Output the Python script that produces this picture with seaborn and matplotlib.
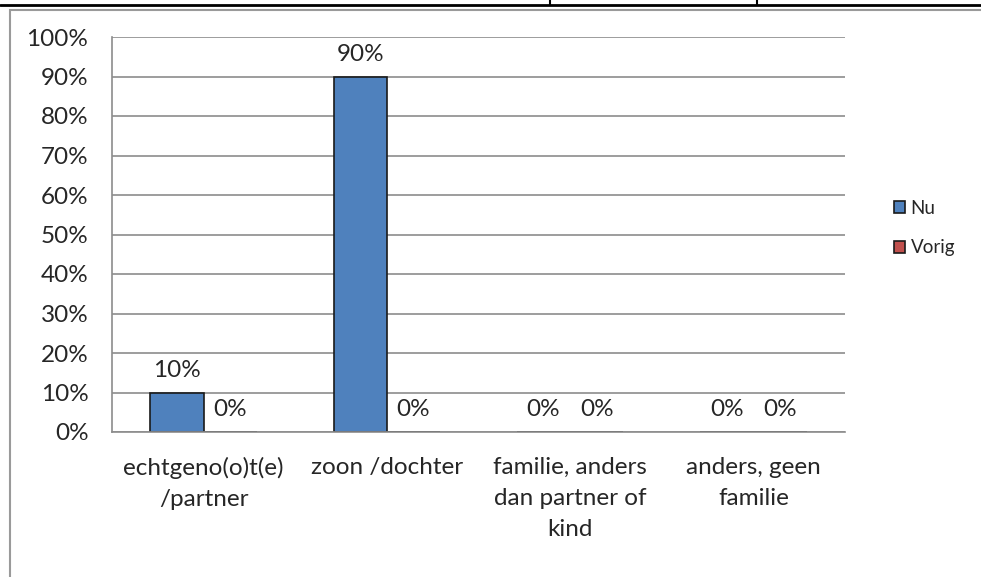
import seaborn as sns
import pandas as pd
import matplotlib.pyplot as plt
from matplotlib.patches import Rectangle
from matplotlib.lines import Line2D

categorieen = ["echtgeno(o)t(e)\n/partner", "zoon /dochter",
               "familie, anders\ndan partner of\nkind", "anders, geen\nfamilie"]
nu = [10, 90, 0, 0]
vorig = [0, 0, 0, 0]
reeksen = ["Nu", "Vorig"]
kleuren = ["#4F81BD", "#C0504D"]

df = pd.DataFrame({
    "categorie": categorieen * 2,
    "reeks": ["Nu"] * 4 + ["Vorig"] * 4,
    "waarde": nu + vorig,
})

sns.set_style("white")
plt.rcParams['font.family'] = ['Lato', 'DejaVu Sans']

W, H = 981, 577
fig = plt.figure(figsize=(W / 100, H / 100), dpi=100)
ax = fig.add_axes([112 / W, 1 - 432 / H, (845 - 112) / W, (432 - 37) / H])

# kader van de grafiek en tabelrand bovenaan
fig.patches.append(Rectangle((10 / W, -0.1), 1.2, 1 - 10 / H + 0.1, transform=fig.transFigure,
                             fill=False, edgecolor="#9a9a9a", linewidth=1.5))
fig.lines.append(Line2D([0, 1], [1 - 5 / H, 1 - 5 / H], transform=fig.transFigure,
                        color="black", linewidth=2))
for xv in [550, 757]:
    fig.lines.append(Line2D([xv / W, xv / W], [1 - 5 / H, 1], transform=fig.transFigure,
                            color="black", linewidth=1.5))

sns.barplot(data=df, x="categorie", y="waarde", hue="reeks", hue_order=reeksen,
            palette=kleuren, width=0.58, gap=0, edgecolor="#1a1a1a", linewidth=1.2,
            saturation=1, legend=False, ax=ax)

ax.set_xlim(-0.5, 3.5)
ax.set_ylim(0, 100)
ax.set_yticks(range(0, 101, 10))
ax.set_yticklabels([f"{v}%" for v in range(0, 101, 10)], fontsize=17.5)
ax.set_xticklabels(categorieen, fontsize=17.5, linespacing=1.6)
ax.set_xlabel("")
ax.set_ylabel("")
ax.yaxis.grid(True, color="#8c8c8c", linewidth=1.2)
ax.set_axisbelow(True)
for s in ["top", "right"]:
    ax.spines[s].set_visible(False)
for s in ["left", "bottom"]:
    ax.spines[s].set_color("#8c8c8c")
    ax.spines[s].set_linewidth(1.2)
ax.tick_params(axis="y", length=9, color="#8c8c8c", width=1.2, pad=8)
ax.tick_params(axis="x", length=0, pad=18)

# waardelabels boven de staven
for cont in ax.containers:
    for bar in cont:
        h = bar.get_height()
        ax.annotate(f"{h:.0f}%", (bar.get_x() + bar.get_width() / 2, h),
                    xytext=(0, 16), textcoords="offset points",
                    ha="center", va="center", fontsize=17.5)

handles = [Rectangle((0, 0), 1, 1, facecolor=c, edgecolor="#1a1a1a", linewidth=1.2) for c in kleuren]
fig.legend(handles, reeksen, loc="center left", bbox_to_anchor=(877 / W, 1 - 228 / H),
           frameon=False, fontsize=13.5, handlelength=0.6, handleheight=0.6,
           handletextpad=0.3, labelspacing=1.2)

fig.savefig("out.png", dpi=100)
